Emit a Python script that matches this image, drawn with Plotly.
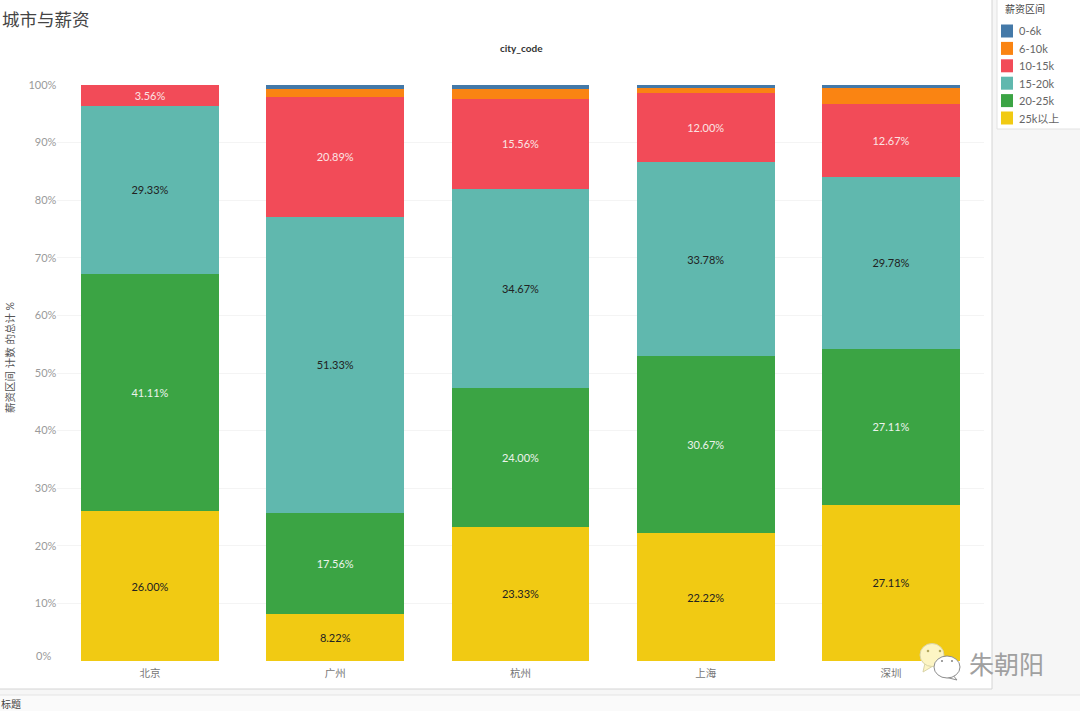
import plotly.graph_objects as go

W, H = 1080, 711
FONT = "Lato, 'Noto Sans CJK SC', sans-serif"
CJK = "'Noto Sans CJK SC', sans-serif"

cities = ["北京", "广州", "杭州", "上海", "深圳"]
bands = ["25k以上", "20-25k", "15-20k", "10-15k", "6-10k", "0-6k"]
v_25k = [26.00, 8.22, 23.33, 22.22, 27.11]
v_20_25 = [41.11, 17.56, 24.00, 30.67, 27.11]
v_15_20 = [29.33, 51.33, 34.67, 33.78, 29.78]
v_10_15 = [3.56, 20.89, 15.56, 12.00, 12.67]
v_6_10 = [0, 1.33, 1.78, 0.89, 2.89]
v_0_6 = [0, 0.67, 0.67, 0.44, 0.44]
series = [v_25k, v_20_25, v_15_20, v_10_15, v_6_10, v_0_6]
colors = ["#f1ca13", "#3ba444", "#60b8ae", "#f24b58", "#fa8412", "#4479a8"]
label_colors = ["#222222", "#ecf3ec", "#222222", "#fbe3e3", None, None]
y_ticks = [0, 10, 20, 30, 40, 50, 60, 70, 80, 90, 100]
legend_title = "薪资区间"


def px(x):
    return x / W


def py(y):
    return 1 - y / H


fig = go.Figure()
for name, vals, col, lc in zip(bands, series, colors, label_colors):
    fig.add_trace(go.Bar(
        x=cities, y=vals, name=name, marker=dict(color=col, line=dict(width=0)),
        text=[f"{v:.2f}%" for v in vals] if lc else None,
        textposition="inside" if lc else "none",
        insidetextanchor="middle",
        textangle=0,
        constraintext="none",
        textfont=dict(color=lc, size=11, family=FONT) if lc else None,
        hoverinfo="x+y+name",
    ))


def box(x0, y0, x1, y1, fill, line=None, lw=1, layer="below"):
    return dict(type="rect", xref="paper", yref="paper", x0=px(x0), x1=px(x1), y0=py(y0), y1=py(y1),
                fillcolor=fill, line=dict(color=line or fill, width=lw if line else 0), layer=layer)


def oval(cx, cy, rx, ry, fill, line=None, lw=1):
    return dict(type="circle", xref="paper", yref="paper", x0=px(cx - rx), x1=px(cx + rx),
                y0=py(cy + ry), y1=py(cy - ry), fillcolor=fill,
                line=dict(color=line or fill, width=lw if line else 0), layer="above")


def tail(pts, fill, line):
    d = "M " + " L ".join(f"{px(a):.5f},{py(b):.5f}" for a, b in pts) + " Z"
    return dict(type="path", xref="paper", yref="paper", path=d, fillcolor=fill,
                line=dict(color=line, width=1), layer="above")


shapes = [
    box(0, 0, W, H, "#f6f6f6"),
    box(-2, -2, 992, 689, "#ffffff", "#d4d4d4"),
    box(-2, 695, W + 2, H + 2, "#fafafa", "#e4e4e4"),
    box(997, -2, W + 2, 129, "#ffffff", "#e2e2e2"),
    tail([(925, 663), (923, 672), (933, 666)], "#fdf5c4", "#d9d4a8"),
    oval(932, 655, 12, 11.5, "#fdf5c4", "#d9d4a8"),
    oval(928, 651, 1.3, 1.3, "#b3a860"),
    oval(940, 651, 1.3, 1.3, "#b3a860"),
    tail([(952, 674), (957, 680), (945, 677)], "#ffffff", "#8d8d8d"),
    oval(947, 667, 13, 11, "#ffffff", "#8d8d8d"),
    oval(942, 661, 1.1, 1.1, "#8d8d8d"),
    oval(952, 661, 1.1, 1.1, "#8d8d8d"),
]


def note(x, y, text, size, color, xanchor="left", yanchor="middle", family=FONT, **kw):
    return dict(xref="paper", yref="paper", x=px(x), y=py(y), text=text, showarrow=False,
                xanchor=xanchor, yanchor=yanchor, font=dict(size=size, color=color, family=family),
                borderpad=0, **kw)


annotations = [
    note(1, 18, "城市与薪资", 17.5, "#444444", family=CJK),
    note(521, 48, "<b>city_code</b>", 10, "#333333", xanchor="center"),
    note(10, 358, "薪资区间 计数 的总计 %", 10.5, "#555555", xanchor="center", textangle=-90),
    note(52, 655, "0%", 11, "#9a9a9a", xanchor="right"),
    note(0, 703.5, "标题", 10, "#444444", family=CJK),
    note(1006, 662.5, "朱朝阳", 25, "#a0a0a0", xanchor="center", family=CJK),
    note(1004, 9, legend_title, 10, "#444444", family=CJK),
]

# key panel, top entry first
for i, (name, col) in enumerate(zip(bands[::-1], colors[::-1])):
    yc = 31 + i * 17.4
    shapes.append(box(1001, yc - 6.5, 1013, yc + 6.5, col, layer="above"))
    annotations.append(note(1017.5, yc, name, 11, "#666666"))

fig.update_layout(
    width=W, height=H, margin=dict(l=0, r=0, t=0, b=0, pad=0, autoexpand=False), autosize=False,
    paper_bgcolor="#ffffff", plot_bgcolor="rgba(0,0,0,0)",
    barmode="stack", bargap=0.255,
    font=dict(family=FONT),
    shapes=shapes, annotations=annotations,
    xaxis=dict(domain=[px(57.4), px(983.6)], range=[-0.5, 4.5], type="category",
               categoryorder="array", categoryarray=cities,
               showgrid=False, zeroline=False, showline=False, ticks="", ticklen=0,
               ticklabelstandoff=4,
               tickfont=dict(size=10.5, color="#777777", family=CJK)),
    yaxis=dict(domain=[py(661), py(85)], range=[0, 100], tickmode="array", tickvals=y_ticks,
               ticktext=["" if t == 0 else f"{t}%" for t in y_ticks],
               showgrid=True, gridcolor="#f4f4f4", gridwidth=1, zeroline=False, showline=False,
               ticks="", tickfont=dict(size=11, color="#9a9a9a", family=FONT)),
    showlegend=False,
)

fig.write_html("out.html", config={"displayModeBar": False},
               post_script="document.body.style.margin='0';document.body.style.overflow='hidden';")
